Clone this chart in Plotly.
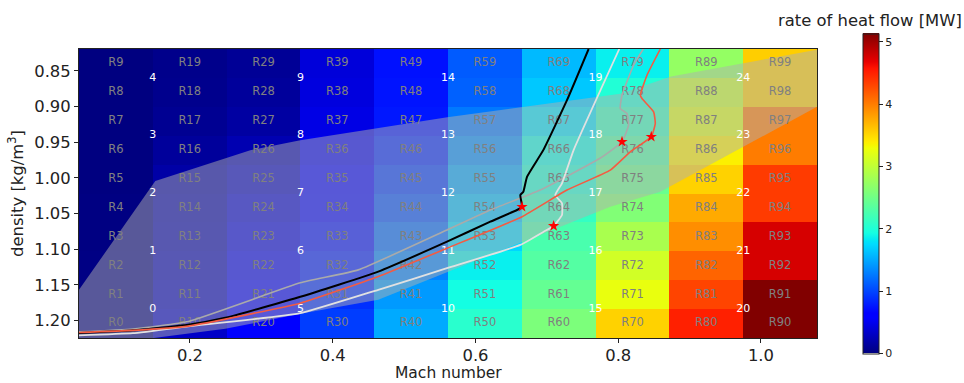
import numpy as np
import plotly.graph_objects as go

# ---------------- data ----------------
mach_edges = [0.0445, 0.1479, 0.2513, 0.3547, 0.4581, 0.5615, 0.6649, 0.7683, 0.8717, 0.9751, 1.0785]
density_edges = [0.8192, 0.85975, 0.9003, 0.94085, 0.9814, 1.02195, 1.0625, 1.10305, 1.1436, 1.18415, 1.2247]

# heat flow [MW] per Mach column, listed from region R{c}0 (highest density) to R{c}9
heat_m0 = [0.02, 0.02, 0.02, 0.01, 0.01, 0.0, 0.0, 0.0, 0.0, 0.0]
heat_m1 = [0.32, 0.28, 0.25, 0.22, 0.20, 0.17, 0.12, 0.08, 0.06, 0.05]
heat_m2 = [0.60, 0.55, 0.50, 0.44, 0.38, 0.30, 0.22, 0.15, 0.12, 0.10]
heat_m3 = [0.95, 0.88, 0.80, 0.72, 0.65, 0.58, 0.50, 0.45, 0.42, 0.40]
heat_m4 = [1.50, 1.42, 1.30, 1.18, 1.05, 0.95, 0.85, 0.76, 0.74, 0.72]
heat_m5 = [2.05, 1.92, 1.85, 1.72, 1.60, 1.48, 1.36, 1.25, 1.13, 1.10]
heat_m6 = [2.57, 2.42, 2.32, 2.25, 2.12, 2.00, 1.90, 1.78, 1.65, 1.58]
heat_m7 = [3.53, 3.25, 3.10, 2.85, 2.60, 2.45, 2.30, 2.15, 2.00, 1.85]
heat_m8 = [4.50, 4.30, 4.13, 3.90, 3.75, 3.53, 3.37, 3.17, 3.05, 2.72]
heat_m9 = [5.13, 5.13, 4.75, 4.75, 4.35, 4.35, 4.00, 4.00, 3.55, 3.55]
heat_zmax = 5.134

# shaded envelope polygon (Mach, density)
env_mach = [0.0445, 0.1514, 0.2845, 0.3546, 0.5605, 0.8029, 0.8740, 1.0785,
            1.0785, 0.9738, 0.8590, 0.7889, 0.6656, 0.5605, 0.4638, 0.3546, 0.2495, 0.1486, 0.0445]
env_rho = [1.1571, 1.0045, 0.9611, 0.9471, 0.9148, 0.8819, 0.8577, 0.8203,
           0.9004, 0.9569, 1.0195, 1.0405, 1.0899, 1.1319, 1.1712, 1.1908, 1.2118, 1.2248, 1.2248]

# trajectories
black_mach = [0.0445, 0.1200, 0.1976, 0.2495, 0.3546, 0.4638, 0.5601, 0.6208, 0.6582, 0.6652,
              0.6628, 0.6670, 0.6722, 0.6950, 0.7282, 0.7585]
black_rho = [1.2178, 1.2140, 1.2062, 1.1964, 1.1669, 1.1315, 1.0895, 1.0615, 1.0451, 1.0405,
             1.0241, 1.0195, 0.9985, 0.9611, 0.8910, 0.8192]

red_mach = [0.0445, 0.1200, 0.1976, 0.3546, 0.4638, 0.5601, 0.6652, 0.7282, 0.7889, 0.8169,
            0.8463, 0.8519, 0.8496, 0.8333, 0.8309, 0.8403, 0.8590]
red_rho = [1.2170, 1.2140, 1.2080, 1.1758, 1.1385, 1.0987, 1.0545, 1.0171, 0.9891, 0.9634,
           0.9424, 0.9237, 0.9074, 0.8887, 0.8840, 0.8560, 0.8192]

gray_mach = [0.0445, 0.1200, 0.1976, 0.3546, 0.4358, 0.5601, 0.6208, 0.6908, 0.7745, 0.8053,
             0.8145, 0.8123, 0.8029, 0.8053, 0.8215, 0.8351]
gray_rho = [1.2161, 1.2120, 1.2015, 1.1473, 1.1291, 1.0731, 1.0451, 1.0171, 0.9725, 0.9494,
            0.9261, 0.9097, 0.9027, 0.8840, 0.8420, 0.8192]

white_mach = [0.0445, 0.1200, 0.1976, 0.3546, 0.4638, 0.5601, 0.6628, 0.6955, 0.7095, 0.7212,
              0.7212, 0.7118, 0.7212, 0.7375, 0.8015]
white_rho = [1.2211, 1.2180, 1.2085, 1.1898, 1.1571, 1.1268, 1.0941, 1.0755, 1.0675, 1.0521,
             1.0357, 1.0241, 1.0077, 0.9611, 0.8192]

star_mach = [0.6652, 0.7095, 0.8053, 0.8463]
star_rho = [1.0405, 1.0675, 0.9494, 0.9424]

x_ticks = [0.2, 0.4, 0.6, 0.8, 1.0]
x_tick_labels = ["0.2", "0.4", "0.6", "0.8", "1.0"]
y_ticks = [0.85, 0.90, 0.95, 1.00, 1.05, 1.10, 1.15, 1.20]
y_tick_labels = ["0.85", "0.90", "0.95", "1.00", "1.05", "1.10", "1.15", "1.20"]
cb_ticks = [0, 1, 2, 3, 4, 5]

# ---------------- build ----------------
cols = [heat_m0, heat_m1, heat_m2, heat_m3, heat_m4, heat_m5, heat_m6, heat_m7, heat_m8, heat_m9]
me = np.array(mach_edges)
de = np.array(density_edges)  # ascending density (top of plot first)
n = len(cols)
z = [[cols[c][n - 1 - j] for c in range(n)] for j in range(n)]

# matplotlib jet colour scale
bps = [0, 0.11, 0.125, 0.34, 0.35, 0.375, 0.64, 0.65, 0.66, 0.89, 0.91, 1.0]
rr = np.interp(bps, [0, 0.35, 0.66, 0.89, 1], [0, 0, 1, 1, 0.5])
gg = np.interp(bps, [0, 0.125, 0.375, 0.64, 0.91, 1], [0, 0, 1, 1, 0, 0])
bb = np.interp(bps, [0, 0.11, 0.34, 0.65, 1], [0.5, 1, 1, 0, 0])
jet = [[p, f"rgb({int(round(r*255))},{int(round(g*255))},{int(round(b*255))})"] for p, r, g, b in zip(bps, rr, gg, bb)]

FONT = "DejaVu Sans"
BIG = 16.4
fig = go.Figure()
fig.add_trace(go.Heatmap(
    x=mach_edges, y=density_edges, z=z, zmin=0, zmax=heat_zmax, colorscale=jet,
    hoverinfo="skip",
    colorbar=dict(
        x=1.062, xanchor="left", xpad=0, y=0.5, yanchor="middle", ypad=0,
        len=1.107, lenmode="fraction", thickness=16,
        outlinewidth=1, outlinecolor="#222",
        tickvals=cb_ticks, ticks="outside", ticklen=4, tickcolor="#222",
        tickfont=dict(family=FONT, size=11, color="#222"),
    ),
))

fig.add_trace(go.Scatter(
    x=env_mach, y=env_rho, mode="lines", fill="toself",
    fillcolor="rgba(175,175,175,0.5)", line=dict(width=0), hoverinfo="skip", showlegend=False,
))

# region labels
cx = (me[:-1] + me[1:]) / 2
cy = (de[:-1] + de[1:]) / 2
lx, ly, lt = [], [], []
for c in range(n):
    for r in range(n):
        lx.append(cx[c])
        ly.append(cy[n - 1 - r])
        lt.append(f"R{c*10 + r}")
fig.add_trace(go.Scatter(x=lx, y=ly, text=lt, mode="text",
                         textfont=dict(family=FONT, size=11.5, color="rgb(128,128,128)"),
                         hoverinfo="skip", showlegend=False))

# grid-point labels at block corners
gx, gy, gt = [], [], []
k = 0
for c in range(1, n, 2):
    for r in range(1, n, 2):
        gx.append(me[c])
        gy.append(de[n - r])
        gt.append(str(k))
        k += 1
fig.add_trace(go.Scatter(x=gx, y=gy, text=gt, mode="text",
                         textfont=dict(family=FONT, size=11, color="white"),
                         hoverinfo="skip", showlegend=False))

for xs, ys, col, w in [(gray_mach, gray_rho, "rgb(170,170,170)", 1.6),
                       (white_mach, white_rho, "rgb(225,225,225)", 1.8),
                       (black_mach, black_rho, "black", 2.0),
                       (red_mach, red_rho, "rgb(245,90,65)", 1.6)]:
    fig.add_trace(go.Scatter(x=xs, y=ys, mode="lines",
                             line=dict(color=col, width=w, shape="spline", smoothing=0.4),
                             hoverinfo="skip", showlegend=False))

fig.add_trace(go.Scatter(x=star_mach, y=star_rho, mode="markers",
                         marker=dict(symbol="star", size=8.5, color="red", line=dict(width=0)),
                         hoverinfo="skip", showlegend=False))

fig.update_layout(
    width=964, height=383,
    margin=dict(l=79, r=147, t=49, b=45),
    paper_bgcolor="white", plot_bgcolor="white",
    font=dict(family=FONT, size=BIG, color="#222"),
    showlegend=False,
    annotations=[
        dict(text="rate of heat flow [MW]", xref="x domain", yref="y domain",
             x=(870 - 79) / 738, y=(338 - 20) / 289, xanchor="center", yanchor="middle",
             showarrow=False, font=dict(family=FONT, size=BIG, color="#222")),
        dict(text="Mach number", xref="x domain", yref="y domain",
             x=0.5, y=(338 - 383) / 289, xanchor="center", yanchor="bottom", borderpad=0,
             showarrow=False, font=dict(family=FONT, size=15.5, color="#222")),
    ],
)
fig.update_xaxes(range=[mach_edges[0], mach_edges[-1]], tickvals=x_ticks, ticktext=x_tick_labels,
                 ticks="outside", ticklen=4, tickcolor="#222", showgrid=False, zeroline=False,
                 showline=True, mirror=True, linecolor="#222", linewidth=1, automargin=False,
                 ticklabelstandoff=-2, tickfont=dict(size=BIG))
fig.update_yaxes(range=[density_edges[-1], density_edges[0]], tickvals=y_ticks, ticktext=y_tick_labels,
                 ticks="outside", ticklen=4, tickcolor="#222", showgrid=False, zeroline=False,
                 showline=True, mirror=True, linecolor="#222", linewidth=1, automargin=False,
                 tickfont=dict(size=BIG),
                 title=dict(text="density [kg/m<sup>3</sup>]", standoff=6, font=dict(size=BIG)))

fig.write_html("out.html")
